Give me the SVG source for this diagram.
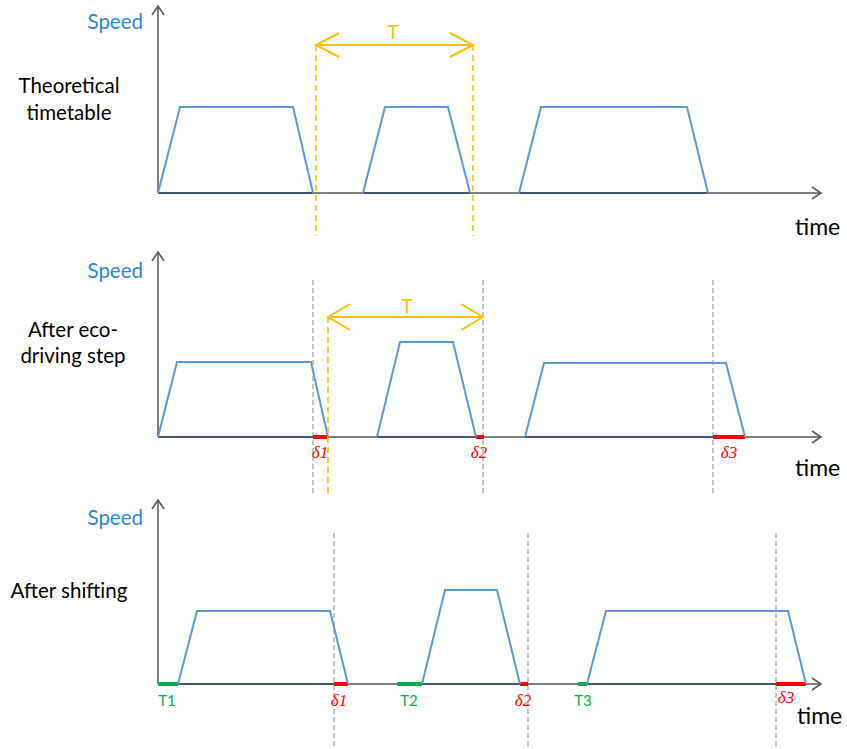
<svg xmlns="http://www.w3.org/2000/svg" width="847" height="749" viewBox="0 0 847 749">
<defs>
<style>
.axis{stroke:#7f7f7f;stroke-width:2;fill:none}
.ahead{stroke:#595959;stroke-width:1.6;fill:none}
.spd{stroke:#5b9bd5;stroke-width:2;fill:none;stroke-linejoin:miter}
.base{stroke:#44546a;stroke-width:2;fill:none}
.org{stroke:#ffc000;stroke-width:2;fill:none}
.orgd{stroke:#ffc000;stroke-width:1.6;fill:none;stroke-dasharray:6,4}
.gry{stroke:#a6a6a6;stroke-width:1.3;fill:none;stroke-dasharray:5,3}
.red{stroke:#ff0000;stroke-width:4}
.grn{stroke:#00b050;stroke-width:4}
.lbl{font-family:Lato,"Open Sans",sans-serif;font-size:20.5px;fill:#000}
.speed{font-family:Lato,"Open Sans",sans-serif;font-size:20.5px;fill:#2e86d6}
.time{font-family:Lato,"Open Sans",sans-serif;font-size:23px;fill:#000}
.tlab{font-family:Lato,"Open Sans",sans-serif;font-size:20px;fill:#ffc000}
.dl{font-family:"Liberation Serif",serif;font-style:italic;font-size:17px;fill:#ff0000}
.tg{font-family:Lato,"Open Sans",sans-serif;font-size:15px;fill:#00b050}
</style>
</defs>

<g id="panel1">
  <g id="p1-axes">
    <line class="axis" x1="158" y1="193" x2="158" y2="6"/>
    <polyline class="ahead" points="152,15 158,6 164,15"/>
    <line class="axis" x1="158" y1="193" x2="821" y2="193"/>
    <polyline class="ahead" points="812,187 821,193 812,199"/>
  </g>
  <text class="speed" x="143" y="29" text-anchor="end">Speed</text>
  <text class="lbl" x="69" y="93" text-anchor="middle">Theoretical</text>
  <text class="lbl" x="69" y="120" text-anchor="middle">timetable</text>
  <text class="time" x="795" y="235">time</text>
  <g id="p1-trips">
    <line class="base" x1="158" y1="193" x2="313" y2="193"/>
    <line class="base" x1="363" y1="193" x2="470" y2="193"/>
    <line class="base" x1="519" y1="193" x2="708" y2="193"/>
    <polyline class="spd" points="158,193 180,107 293,107 313,193"/>
    <polyline class="spd" points="363,193 385,107 448,107 470,193"/>
    <polyline class="spd" points="519,193 541,107 687,107 708,193"/>
  </g>
  <g id="p1-T">
    <line class="orgd" x1="316" y1="45" x2="316" y2="236"/>
    <line class="orgd" x1="473" y1="45" x2="473" y2="236"/>
    <line class="org" x1="316" y1="45" x2="473" y2="45"/>
    <polyline class="org" points="339,33 316,45 339,57"/>
    <polyline class="org" points="450,33 473,45 450,57"/>
    <text class="tlab" x="393" y="39" text-anchor="middle">T</text>
  </g>
</g>

<g id="panel2">
  <g id="p2-axes">
    <line class="axis" x1="158" y1="437" x2="158" y2="252"/>
    <polyline class="ahead" points="152,261 158,252 164,261"/>
    <line class="axis" x1="158" y1="437" x2="821" y2="437"/>
    <polyline class="ahead" points="812,431 821,437 812,443"/>
  </g>
  <text class="speed" x="143" y="278" text-anchor="end">Speed</text>
  <text class="lbl" x="73" y="337" text-anchor="middle">After eco-</text>
  <text class="lbl" x="73" y="363" text-anchor="middle">driving step</text>
  <text class="time" x="795" y="476">time</text>
  <g id="p2-guides">
    <line class="gry" x1="313" y1="280" x2="313" y2="496"/>
    <line class="gry" x1="483" y1="280" x2="483" y2="496"/>
    <line class="gry" x1="713" y1="280" x2="713" y2="496"/>
  </g>
  <g id="p2-trips">
    <line class="base" x1="158" y1="437" x2="313" y2="437"/>
    <line class="base" x1="377" y1="437" x2="476" y2="437"/>
    <line class="base" x1="525" y1="437" x2="713" y2="437"/>
    <line class="red" x1="313" y1="437" x2="328" y2="437"/>
    <line class="red" x1="476" y1="437" x2="484" y2="437"/>
    <line class="red" x1="713" y1="437" x2="745" y2="437"/>
    <polyline class="spd" points="158,437 177,362 311,362 328,437"/>
    <polyline class="spd" points="377,437 400,342 453,342 476,437"/>
    <polyline class="spd" points="525,437 544,363 726,363 745,437"/>
  </g>
  <g id="p2-T">
    <line class="orgd" x1="328" y1="317" x2="328" y2="497"/>
    <line class="org" x1="328" y1="317" x2="483" y2="317"/>
    <polyline class="org" points="350,304 328,317 350,330"/>
    <polyline class="org" points="461,304 483,317 461,330"/>
    <text class="tlab" x="407" y="313" text-anchor="middle">T</text>
  </g>
  <text class="dl" x="320" y="458" text-anchor="middle">δ1</text>
  <text class="dl" x="479" y="458" text-anchor="middle">δ2</text>
  <text class="dl" x="729" y="458" text-anchor="middle">δ3</text>
</g>

<g id="panel3">
  <g id="p3-axes">
    <line class="axis" x1="158" y1="684" x2="158" y2="500"/>
    <polyline class="ahead" points="152,509 158,500 164,509"/>
    <line class="axis" x1="158" y1="684" x2="821" y2="684"/>
    <polyline class="ahead" points="812,678 821,684 812,690"/>
  </g>
  <text class="speed" x="143" y="525" text-anchor="end">Speed</text>
  <text class="lbl" x="69" y="598" text-anchor="middle">After shifting</text>
  <text class="time" x="797" y="724">time</text>
  <g id="p3-guides">
    <line class="gry" x1="334" y1="533" x2="334" y2="746"/>
    <line class="gry" x1="528" y1="533" x2="528" y2="746"/>
    <line class="gry" x1="776" y1="533" x2="776" y2="746"/>
  </g>
  <g id="p3-trips">
    <line class="base" x1="178" y1="684" x2="334" y2="684"/>
    <line class="base" x1="422" y1="684" x2="520" y2="684"/>
    <line class="base" x1="587" y1="684" x2="776" y2="684"/>
    <line class="grn" x1="158" y1="684" x2="178" y2="684"/>
    <line class="grn" x1="397" y1="684" x2="422" y2="684"/>
    <line class="grn" x1="578" y1="684" x2="587" y2="684"/>
    <line class="red" x1="334" y1="684" x2="348" y2="684"/>
    <line class="red" x1="520" y1="684" x2="528" y2="684"/>
    <line class="red" x1="776" y1="684" x2="806" y2="684"/>
    <polyline class="spd" points="178,684 197,611 330,611 348,684"/>
    <polyline class="spd" points="422,684 445,590 497,590 520,684"/>
    <polyline class="spd" points="587,684 606,611 788,611 806,684"/>
  </g>
  <text class="tg" x="167" y="706" text-anchor="middle">T1</text>
  <text class="tg" x="409" y="706" text-anchor="middle">T2</text>
  <text class="tg" x="583" y="706" text-anchor="middle">T3</text>
  <text class="dl" x="339" y="706" text-anchor="middle">δ1</text>
  <text class="dl" x="523" y="706" text-anchor="middle">δ2</text>
  <text class="dl" x="786" y="703" text-anchor="middle">δ3</text>
</g>
</svg>
